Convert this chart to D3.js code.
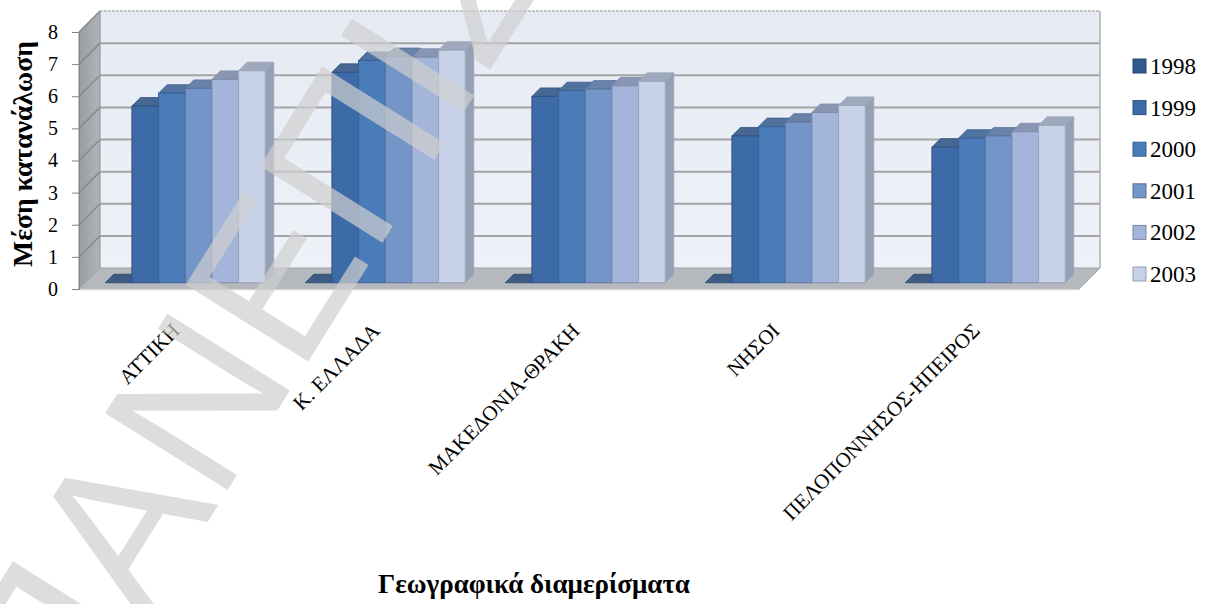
<!DOCTYPE html>
<html>
<head>
<meta charset="utf-8">
<script src="https://cdn.jsdelivr.net/npm/d3@7"></script>
<style>
  html, body { margin: 0; padding: 0; background: #ffffff; }
  svg { display: block; }
  .serif { font-family: "Liberation Serif", "Times New Roman", Times, "DejaVu Serif", serif; fill: #000; }
</style>
</head>
<body>
<svg id="chart" width="1215" height="604"></svg>
<script>
// Μέση κατανάλωση ανά γεωγραφικό διαμέρισμα, 1998–2003
const categories = ["ΑΤΤΙΚΗ", "Κ. ΕΛΛΑΔΑ", "ΜΑΚΕΔΟΝΙΑ-ΘΡΑΚΗ", "ΝΗΣΟΙ", "ΠΕΛΟΠΟΝΝΗΣΟΣ-ΗΠΕΙΡΟΣ"];
const years = ["1998", "1999", "2000", "2001", "2002", "2003"];
const v1998 = [0, 0, 0, 0, 0];
const v1999 = [5.50, 6.55, 5.80, 4.57, 4.22];
const v2000 = [5.90, 6.92, 5.98, 4.86, 4.50];
const v2001 = [6.05, 7.04, 6.03, 5.00, 4.57];
const v2002 = [6.33, 7.02, 6.13, 5.30, 4.70];
const v2003 = [6.60, 7.24, 6.27, 5.52, 4.90];
const yTicks = [0, 1, 2, 3, 4, 5, 6, 7, 8];
const yTitle = "Μέση κατανάλωση";
const xTitle = "Γεωγραφικά διαμερίσματα";
const watermark = "ΠΑΝΕΠΙΣΤΗΜΙΟ";

const seriesValues = [v1998, v1999, v2000, v2001, v2002, v2003];
const seriesColors = ["#2f5a8f", "#3d6ba7", "#4a7cba", "#7495c8", "#a3b5d9", "#c7d2e9"];

const svg = d3.select("#chart");

// scale a text's font size so that it spans the given length
function fitLength(sel, target) {
  const fs = +sel.attr("font-size");
  const len = sel.node().getComputedTextLength();
  if (len > 0) sel.attr("font-size", (fs * target / len).toFixed(2));
  return +sel.attr("font-size");
}

// oblique 3D frame: front plane + depth vector
const X0 = 79, X1 = 1079;
const DEPTH = 21;
const BAR_OFF = 6.25, BAR_D = 8.5;

const x = d3.scaleBand().domain(categories).range([X0, X1]);
const xs = d3.scaleBand().domain(years).range([0, x.bandwidth()])
  .paddingInner(0).paddingOuter(0.75);
const y = d3.scaleLinear().domain([0, 8]).range([289, 32]);

const P = (px, py, d) => [px + d, py - d];
const poly = pts => "M" + pts.map(p => p.join(",")).join("L") + "Z";

const defs = svg.append("defs");
const wallGrad = defs.append("linearGradient").attr("id", "wallGrad")
  .attr("x1", 0).attr("y1", 0).attr("x2", 0).attr("y2", 1);
wallGrad.append("stop").attr("offset", "0%").attr("stop-color", "#e6eaf3");
wallGrad.append("stop").attr("offset", "100%").attr("stop-color", "#eef1f7");
const sideGrad = defs.append("linearGradient").attr("id", "sideGrad")
  .attr("x1", 0).attr("y1", 0).attr("x2", 1).attr("y2", 0);
sideGrad.append("stop").attr("offset", "0%").attr("stop-color", "#9a9da2");
sideGrad.append("stop").attr("offset", "100%").attr("stop-color", "#b0b3b7");

const y0 = y(0), yTop = y(8);

// back wall
svg.append("path")
  .attr("d", poly([P(X0, y0, DEPTH), P(X1, y0, DEPTH), P(X1, yTop, DEPTH), P(X0, yTop, DEPTH)]))
  .attr("fill", "url(#wallGrad)");
// left side wall
svg.append("path")
  .attr("d", poly([[X0, y0], P(X0, y0, DEPTH), P(X0, yTop, DEPTH), [X0, yTop]]))
  .attr("fill", "url(#sideGrad)").attr("stroke", "#8c8f94").attr("stroke-width", 1);

// gridlines on back and side wall
const grid = svg.append("g");
grid.selectAll("line.back").data(yTicks.slice(1)).join("line")
  .attr("class", "back")
  .attr("x1", X0 + DEPTH).attr("x2", X1 + DEPTH)
  .attr("y1", d => y(d) - DEPTH).attr("y2", d => y(d) - DEPTH)
  .attr("stroke", d => d === 8 ? "#b5b5b5" : "#a4a4a4")
  .attr("stroke-width", d => d === 8 ? 1.5 : 2)
  .attr("stroke-dasharray", d => d === 8 ? "3,1" : null);
grid.selectAll("line.side").data(yTicks.slice(1)).join("line")
  .attr("class", "side")
  .attr("x1", X0).attr("x2", X0 + DEPTH)
  .attr("y1", d => y(d)).attr("y2", d => y(d) - DEPTH)
  .attr("stroke", "#86898e").attr("stroke-width", 1.5);
svg.append("line")
  .attr("x1", X1 + DEPTH).attr("x2", X1 + DEPTH)
  .attr("y1", yTop - DEPTH).attr("y2", y0 - DEPTH)
  .attr("stroke", "#b0b0b0").attr("stroke-width", 1.5);

// floor
svg.append("path")
  .attr("d", poly([[X0, y0], [X1, y0], P(X1, y0, DEPTH), P(X0, y0, DEPTH)]))
  .attr("fill", "#b5b8bc").attr("stroke", "#a2a5a9").attr("stroke-width", 1);
svg.append("line")
  .attr("x1", X0).attr("x2", X1).attr("y1", y0 + 0.5).attr("y2", y0 + 0.5)
  .attr("stroke", "#d3d5d8").attr("stroke-width", 1.5);

// bars: side, top, front for each year within each region
const bars = svg.append("g");
categories.forEach((cat, ci) => {
  years.forEach((yr, si) => {
    const val = seriesValues[si][ci];
    const c = d3.color(seriesColors[si]);
    const edge = d3.color(seriesColors[si]).darker(0.7);
    const bx0 = x(cat) + xs(yr), bx1 = bx0 + xs.bandwidth();
    const yb = y(0), yt = y(val);
    const fBL = P(bx0, yb, BAR_OFF), fBR = P(bx1, yb, BAR_OFF);
    const fTL = P(bx0, yt, BAR_OFF), fTR = P(bx1, yt, BAR_OFF);
    const bTL = P(bx0, yt, BAR_OFF + BAR_D), bTR = P(bx1, yt, BAR_OFF + BAR_D);
    const bBR = P(bx1, yb, BAR_OFF + BAR_D);
    const g = bars.append("g");
    g.append("path").attr("d", poly([fBR, fTR, bTR, bBR]))
      .attr("fill", d3.interpolateRgb(c, "#6b778c")(0.55))
      .attr("stroke", edge).attr("stroke-width", 0.8);
    g.append("path").attr("d", poly([fTL, fTR, bTR, bTL]))
      .attr("fill", d3.interpolateRgb(c.darker(0.45), "#7f8aa0")(0.25))
      .attr("stroke", edge).attr("stroke-width", 0.8);
    if (val > 0) {
      g.append("path").attr("d", poly([fBL, fBR, fTR, fTL]))
        .attr("fill", c).attr("stroke", edge).attr("stroke-width", 1);
    }
  });
});

// y axis
const yAxis = d3.axisLeft(y).tickValues(yTicks).tickSize(7).tickPadding(14)
  .tickFormat(d3.format("d"));
const ya = svg.append("g").attr("transform", `translate(${X0},0)`).call(yAxis);
ya.attr("font-family", null).attr("font-size", null);
ya.select(".domain").attr("stroke", "#7f8287").attr("stroke-width", 1);
ya.selectAll(".tick line").attr("stroke", "#7f8287");
ya.selectAll(".tick text").attr("class", "serif").attr("font-size", 20).attr("fill", "#000");

// category labels, rotated 45°
const catLabels = svg.append("g").selectAll("text").data(categories).join("text")
  .attr("class", "serif")
  .attr("transform", d => `translate(${x(d) + x.bandwidth() / 2 + 2},${332}) rotate(-45)`)
  .attr("text-anchor", "end")
  .attr("font-size", 18)
  .text(d => d);
const longest = catLabels.filter((d, i) => i === categories.length - 1);
const catSize = fitLength(longest, 268);
catLabels.attr("font-size", catSize);

// axis titles
const yt = svg.append("text")
  .attr("class", "serif")
  .attr("transform", "translate(32,154) rotate(-90)")
  .attr("text-anchor", "middle").attr("font-size", 24).attr("font-weight", "bold")
  .text(yTitle);
fitLength(yt, 226);
const xt = svg.append("text")
  .attr("class", "serif")
  .attr("x", 534).attr("y", 593)
  .attr("text-anchor", "middle").attr("font-size", 22).attr("font-weight", "bold")
  .text(xTitle);
fitLength(xt, 312);

// legend
const lg = svg.append("g").selectAll("g").data(years).join("g")
  .attr("transform", (d, i) => `translate(1133,${66 + i * 41.6})`);
lg.append("rect").attr("x", 0).attr("y", -7).attr("width", 13).attr("height", 14)
  .attr("fill", (d, i) => seriesColors[i])
  .attr("stroke", (d, i) => d3.color(seriesColors[i]).darker(0.8)).attr("stroke-width", 1);
lg.append("text").attr("class", "serif").attr("x", 17).attr("y", 8)
  .attr("font-size", 23).text(d => d);

// watermark
svg.append("text")
  .attr("transform", "translate(64,752) rotate(-58)")
  .style("font-family", "'Liberation Sans', Arial, sans-serif")
  .attr("font-size", 210)
  .attr("fill", "#cfcfcf").attr("fill-opacity", 0.7)
  .text(watermark);
</script>
</body>
</html>
